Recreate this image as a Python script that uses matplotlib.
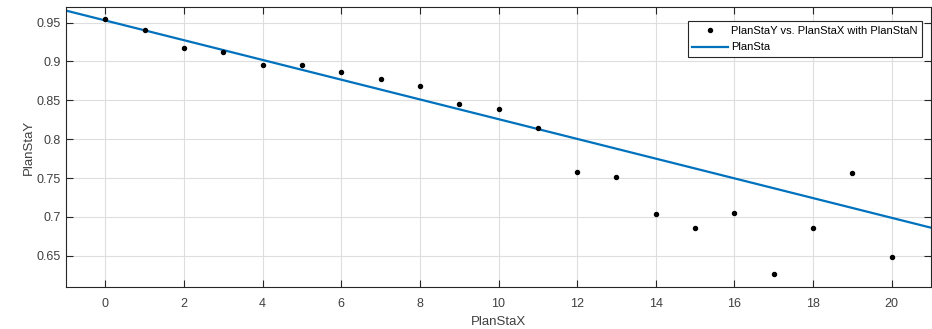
import numpy as np
import matplotlib
matplotlib.use("Agg")
from matplotlib import pyplot as plt

# values
plan_sta_x = [0, 1, 2, 3, 4, 5, 6, 7, 8, 9, 10,
              11, 12, 13, 14, 15, 16, 17, 18, 19, 20]
plan_sta_y = [0.954, 0.941, 0.9175, 0.9124, 0.8957, 0.8948, 0.887, 0.8768,
              0.8678, 0.8456, 0.8387, 0.8148, 0.7578, 0.7514, 0.7035, 0.686,
              0.7055, 0.6266, 0.686, 0.7566, 0.6483]
fit_intercept = 0.9527
fit_slope = -0.01269

x_ticks = [0, 2, 4, 6, 8, 10, 12, 14, 16, 18, 20]
y_ticks = [0.65, 0.7, 0.75, 0.8, 0.85, 0.9, 0.95]
y_tick_labels = ["0.65", "0.7", "0.75", "0.8", "0.85", "0.9", "0.95"]

plt.rcParams["font.family"] = ["Liberation Sans", "DejaVu Sans"]

fig = plt.figure(figsize=(9.32, 3.29), dpi=100)
ax = fig.add_axes([0.0708, 0.1277, 0.9282, 0.851])

xlim = (-1, 21)
ax.plot(plan_sta_x, plan_sta_y, linestyle="none", marker="o", markersize=2.9,
        color="black", label="PlanStaY vs. PlanStaX with PlanStaN", zorder=3)
fit_x = np.array(xlim, dtype=float)
ax.plot(fit_x, fit_intercept + fit_slope * fit_x, color="#0072BD", lw=1.6,
        label="PlanSta", zorder=2)

ax.set_xlim(*xlim)
ax.set_ylim(0.61, 0.97)
ax.set_xticks(x_ticks)
ax.set_yticks(y_ticks)
ax.set_yticklabels(y_tick_labels)

ax.grid(True, color="#dedede", lw=0.8)
ax.set_axisbelow(True)
ax.tick_params(direction="in", length=5, width=0.8, top=True, right=True,
               labelsize=9, colors="#262626", labelcolor="#404040")
ax.tick_params(axis="x", pad=8)
ax.tick_params(axis="y", pad=3.5)
for sp in ax.spines.values():
    sp.set_color("#262626")
    sp.set_linewidth(0.8)

ax.set_xlabel("PlanStaX", fontsize=9.5, color="#404040", labelpad=4.5)
ax.set_ylabel("PlanStaY", fontsize=9.5, color="#404040", labelpad=1.5)

leg = ax.legend(loc="upper right", bbox_to_anchor=(0.9895, 0.949), fontsize=8,
                fancybox=False, framealpha=1, edgecolor="#262626",
                borderpad=0.4, handlelength=3.2, handletextpad=0.3,
                labelspacing=0.6, borderaxespad=0)
leg.get_frame().set_linewidth(0.8)

fig.savefig("out.png", dpi=100)
